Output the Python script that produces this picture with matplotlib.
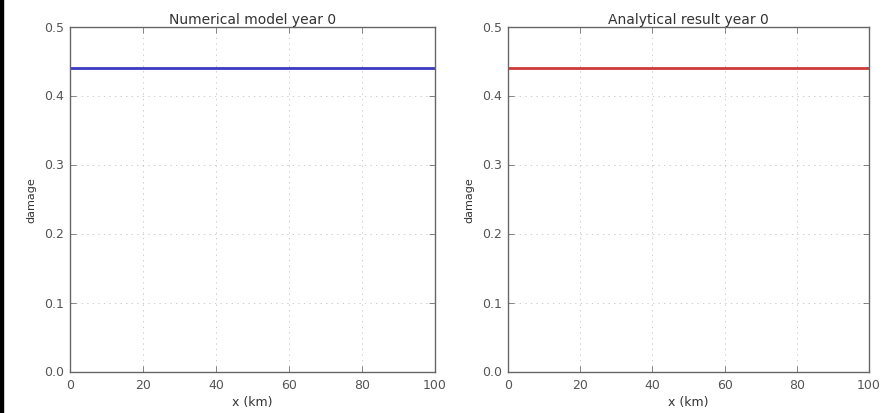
import numpy as np
import matplotlib
matplotlib.use("Agg")
import matplotlib.pyplot as plt
from matplotlib.patches import Rectangle

plt.style.use("classic")

# --- dados ---
x_km = [0, 100]
dano_numerico = [0.44, 0.44]
dano_analitico = [0.44, 0.44]
titulos = ["Numerical model year 0", "Analytical result year 0"]
x_ticks = [0, 20, 40, 60, 80, 100]
y_ticks = [0.0, 0.1, 0.2, 0.3, 0.4, 0.5]

fig = plt.figure(figsize=(8.87, 4.14), dpi=100, facecolor="white")
ax1 = fig.add_axes([70 / 887, 41 / 414, 365 / 887, 345 / 414])
ax2 = fig.add_axes([508 / 887, 41 / 414, 361 / 887, 345 / 414])

series = [(ax1, dano_numerico, "#3a3ac4"), (ax2, dano_analitico, "#cc3a3a")]
for (ax, dados, cor), titulo in zip(series, titulos):
    ax.plot(x_km, dados, color=cor, linewidth=2)
    ax.set_xlim(0, 100)
    ax.set_ylim(0, 0.5)
    ax.set_xticks(x_ticks)
    ax.set_yticks(y_ticks)
    ax.set_axisbelow(True)
    ax.tick_params(labelsize=9, colors="#555555", direction="in")
    ax.set_title(titulo, fontsize=10, color="#333333", pad=3)
    ax.set_xlabel("x (km)", fontsize=9, color="#333333", labelpad=3)
    ax.set_ylabel("damage", fontsize=8, color="#333333", labelpad=6)
    ax.grid(True, linestyle=":", color="#bbbbbb")
    for s in ax.spines.values():
        s.set_edgecolor("#666666")
        s.set_zorder(3)

# borda preta na esquerda da imagem original
fig.patches.append(Rectangle((0, 0), 3 / 887, 1, transform=fig.transFigure,
                             color="black", zorder=10))

fig.savefig("out.png", dpi=100, facecolor="white")
